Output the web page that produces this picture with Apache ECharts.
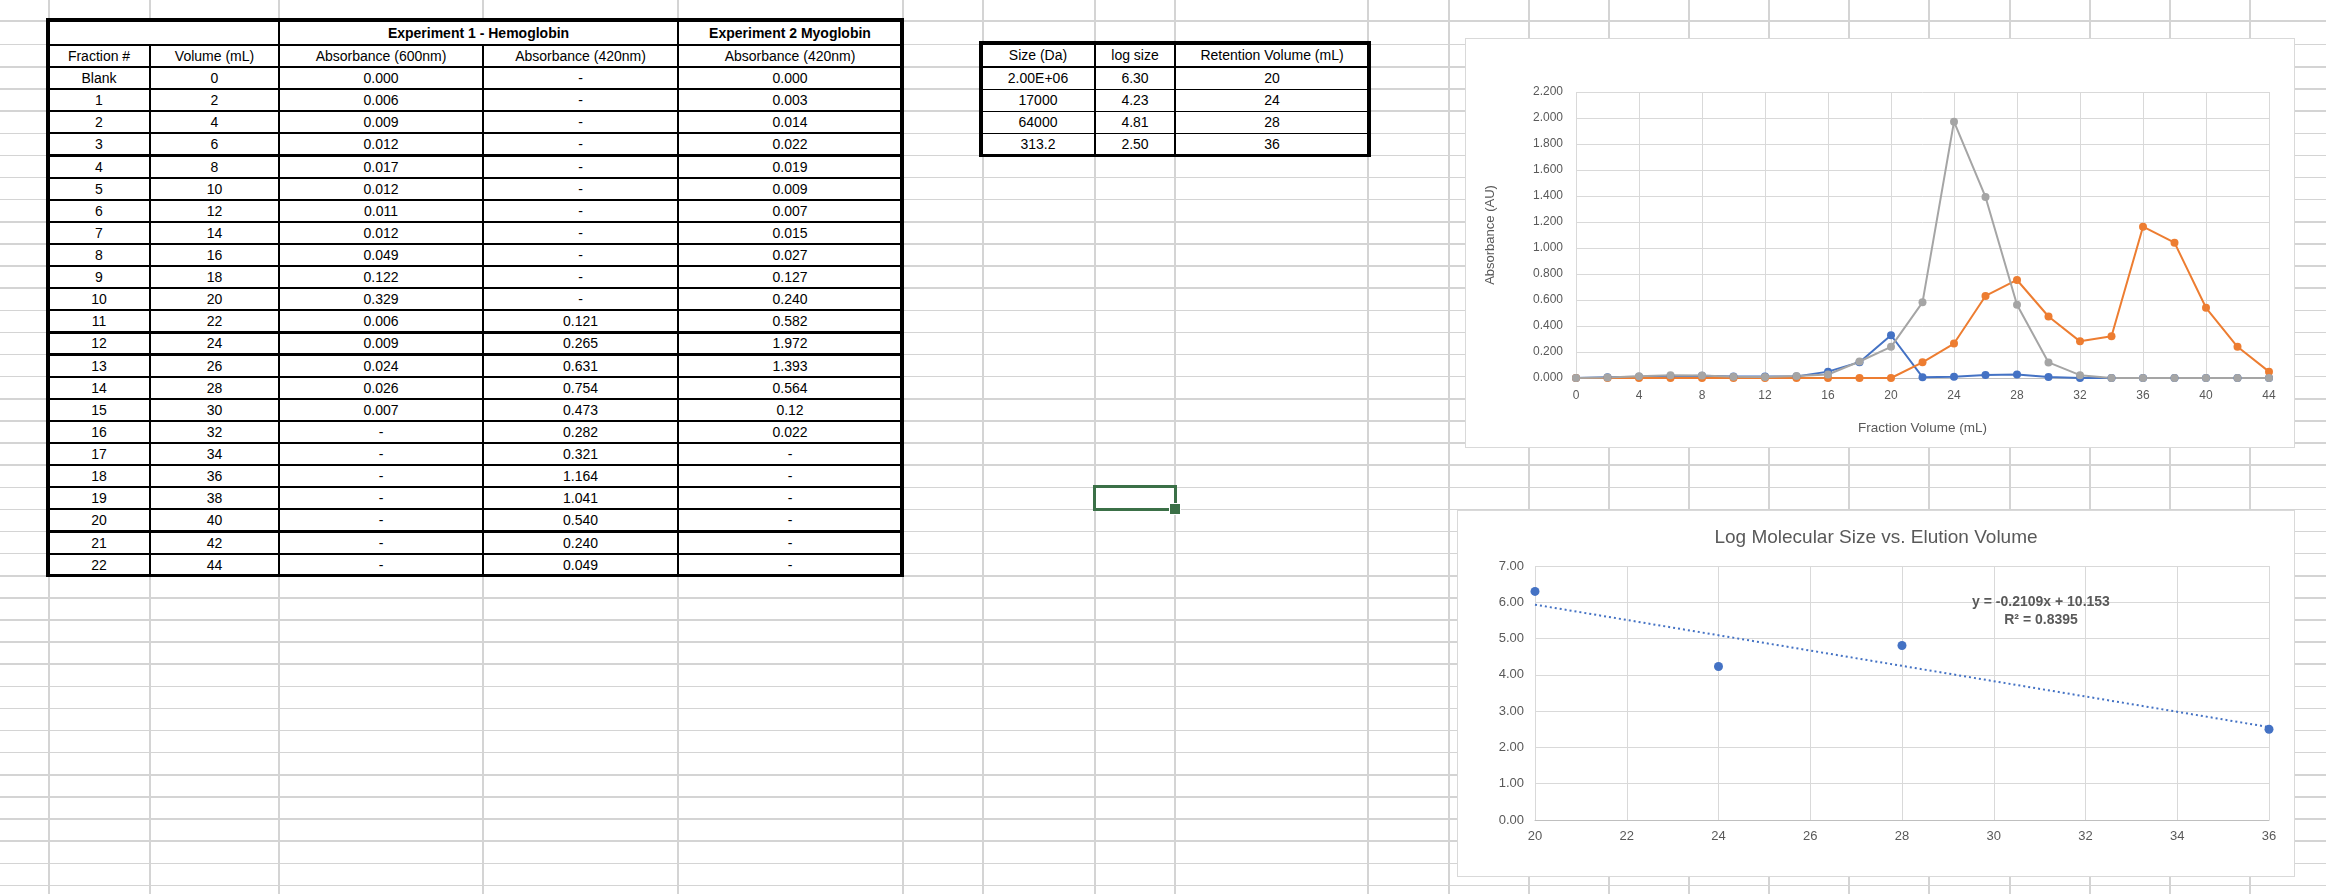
<!DOCTYPE html>
<html><head><meta charset="utf-8">
<script src="https://cdn.jsdelivr.net/npm/echarts@6/dist/echarts.min.js"></script>
<style>
html,body{margin:0;padding:0;width:2326px;height:894px;overflow:hidden;background:#fff;font-family:"Liberation Sans",Arial,sans-serif;}
#sheet{position:absolute;left:0;top:0;width:2326px;height:894px;}
.gl{position:absolute;background:#d4d4d4;}
.cell{position:absolute;display:flex;align-items:center;justify-content:center;font-size:14px;color:#000;background:#fff;white-space:nowrap;}
.bl{position:absolute;background:#000;}
.chart{position:absolute;background:#fff;}
.frame{position:absolute;border:1px solid #d9d9d9;box-sizing:border-box;pointer-events:none;}
</style></head><body>
<div id="sheet"></div>
<div id="c1" class="chart" style="left:1465px;top:38px;width:830px;height:410px"></div>
<div class="frame" style="left:1465px;top:38px;width:830px;height:410px"></div>
<div id="c2" class="chart" style="left:1457px;top:510px;width:838px;height:367px"></div>
<div class="frame" style="left:1457px;top:510px;width:838px;height:367px"></div>
<script>
// ---------------- DATA ----------------
const fractionLabels = ['Blank','1','2','3','4','5','6','7','8','9','10','11','12','13','14','15','16','17','18','19','20','21','22'];
const volumes = [0,2,4,6,8,10,12,14,16,18,20,22,24,26,28,30,32,34,36,38,40,42,44];
const hemoAbs600 = ['0.000','0.006','0.009','0.012','0.017','0.012','0.011','0.012','0.049','0.122','0.329','0.006','0.009','0.024','0.026','0.007','-','-','-','-','-','-','-'];
const hemoAbs420 = ['-','-','-','-','-','-','-','-','-','-','-','0.121','0.265','0.631','0.754','0.473','0.282','0.321','1.164','1.041','0.540','0.240','0.049'];
const myoAbs420 = ['0.000','0.003','0.014','0.022','0.019','0.009','0.007','0.015','0.027','0.127','0.240','0.582','1.972','1.393','0.564','0.12','0.022','-','-','-','-','-','-'];

const sizeDa = ['2.00E+06','17000','64000','313.2'];
const logSize = [6.30, 4.23, 4.81, 2.50];
const retentionVolume = [20, 24, 28, 36];

const trendSlope = -0.2109;
const trendIntercept = 10.153;
const trendR2 = 0.8395;

const seriesNames = ['Absorbance (600nm)','Hemoglobin Absorbance (420nm)','Myoglobin Absorbance (420nm)'];
const seriesColors = ['#4472C4','#ED7D31','#A5A5A5'];

// ---------------- SPREADSHEET BACKGROUND ----------------
const sheet = document.getElementById('sheet');
function add(cls, l, t, w, h, html, extra){
  const d = document.createElement('div');
  d.className = cls;
  d.style.left = l + 'px'; d.style.top = t + 'px';
  d.style.width = w + 'px'; d.style.height = h + 'px';
  if (html !== undefined) d.textContent = html;
  if (extra) Object.assign(d.style, extra);
  sheet.appendChild(d);
  return d;
}
const rowPitch = 22.12;
const gridCols = [49,150,279,483,678,903,983,1095,1175,1368,1449,1529,1609,1689,1769,1849,1929,2010,2090,2170,2250];
const gridRows = [21,44.5];
for (let y = 67; y < 894; y += rowPitch) gridRows.push(y);
gridCols.forEach(x => add('gl', x - 0.75, 0, 1.5, 894));
gridRows.forEach(y => add('gl', 0, y - 0.75, 2326, 1.5));

function hline(x1, x2, y, w){ add('bl', x1 - w/2, y - w/2, x2 - x1 + w, w); }
function vline(x, y1, y2, w){ add('bl', x - w/2, y1 - w/2, w, y2 - y1 + w); }

// ---------------- LEFT TABLE ----------------
const tCols = [48,150,279,483,678,902];
const tRows = [20,45];
for (let k = 0; k <= 23; k++) tRows.push(67 + k * rowPitch);
function cell(c1, c2, r, text, bold){
  add('cell', tCols[c1], tRows[r], tCols[c2] - tCols[c1], tRows[r+1] - tRows[r], text, bold ? {fontWeight:'bold'} : null);
}
cell(0,2,0,'');
cell(2,4,0,'Experiment 1 - Hemoglobin',true);
cell(4,5,0,'Experiment 2 Myoglobin',true);
['Fraction #','Volume (mL)','Absorbance (600nm)','Absorbance (420nm)','Absorbance (420nm)'].forEach((t,i)=>cell(i,i+1,1,t));
fractionLabels.forEach((f,i)=>{
  const r = i + 2;
  cell(0,1,r,f);
  cell(1,2,r,String(volumes[i]));
  cell(2,3,r,hemoAbs600[i]);
  cell(3,4,r,hemoAbs420[i]);
  cell(4,5,r,myoAbs420[i]);
});
// borders
for (let r = 1; r < tRows.length - 1; r++) hline(tCols[0], tCols[5], tRows[r], 2.2);
for (let c = 1; c < tCols.length - 1; c++) {
  const y1 = (c === 1 || c === 3) ? tRows[1] : tRows[0];
  vline(tCols[c], y1, tRows[tRows.length-1], 2.2);
}
hline(tCols[0], tCols[5], tRows[0], 3.2);
hline(tCols[0], tCols[5], tRows[tRows.length-1], 3.2);
vline(tCols[0], tRows[0], tRows[tRows.length-1], 3.2);
vline(tCols[5], tRows[0], tRows[tRows.length-1], 3.2);

// ---------------- SMALL TABLE ----------------
const sCols = [981,1095,1175,1369];
const sRows = [43,67];
for (let k = 1; k <= 4; k++) sRows.push(67 + k * rowPitch);
function scell(c, r, text){
  add('cell', sCols[c], sRows[r], sCols[c+1] - sCols[c], sRows[r+1] - sRows[r], text);
}
['Size (Da)','log size','Retention Volume (mL)'].forEach((t,i)=>scell(i,0,t));
sizeDa.forEach((s,i)=>{
  scell(0,i+1,s);
  scell(1,i+1,logSize[i].toFixed(2));
  scell(2,i+1,String(retentionVolume[i]));
});
for (let r = 1; r < sRows.length - 1; r++) hline(sCols[0], sCols[3], sRows[r], 1.2);
for (let c = 1; c < sCols.length - 1; c++) vline(sCols[c], sRows[0], sRows[sRows.length-1], 1.2);
hline(sCols[0], sCols[3], sRows[0], 3.2);
hline(sCols[0], sCols[3], sRows[sRows.length-1], 3.2);
vline(sCols[0], sRows[0], sRows[sRows.length-1], 3.2);
vline(sCols[3], sRows[0], sRows[sRows.length-1], 3.2);

// ---------------- SELECTED CELL ----------------
add('sel', 1093, 485, 84, 26, undefined, {position:'absolute', border:'3px solid #3b7047', boxSizing:'border-box', background:'transparent'});
add('sel', 1170, 504, 10, 10, undefined, {position:'absolute', background:'#3b7047', outline:'1.5px solid #fff'});

// ---------------- CHART 1 ----------------
const toNum = v => (v === '-' ? 0 : Number(v));
const font = 'Liberation Sans, Arial, sans-serif';
const chart1 = echarts.init(document.getElementById('c1'));
const lineSeries = [hemoAbs600, hemoAbs420, myoAbs420].map((arr, i) => ({
  type: 'line',
  name: seriesNames[i],
  data: volumes.map((v, j) => [v, toNum(arr[j])]),
  symbol: 'circle',
  symbolSize: 8,
  color: seriesColors[i],
  lineStyle: {width: 2, color: seriesColors[i]},
  itemStyle: {color: seriesColors[i], opacity: 1}
}));
chart1.setOption({
  animation: false,
  textStyle: {fontFamily: font},
  grid: {left: 111, right: 26, top: 54, bottom: 70},
  xAxis: {
    type: 'value', min: 0, max: 44, interval: 4,
    axisLine: {show: true, onZero: false, lineStyle: {color: '#bfbfbf', width: 1}},
    axisTick: {show: false},
    axisLabel: {color: '#595959', fontSize: 12, margin: 12},
    splitLine: {show: true, lineStyle: {color: '#d9d9d9', width: 1}},
    name: 'Fraction Volume (mL)', nameLocation: 'middle', nameGap: 43,
    nameTextStyle: {color: '#595959', fontSize: 13.5}
  },
  yAxis: {
    type: 'value', min: 0, max: 2.2, interval: 0.2,
    axisLine: {show: false}, axisTick: {show: false},
    axisLabel: {color: '#595959', fontSize: 12, margin: 13, formatter: v => v.toFixed(3)},
    splitLine: {show: true, lineStyle: {color: '#d9d9d9', width: 1}},
    name: 'Absorbance (AU)', nameLocation: 'middle', nameGap: 79,
    nameTextStyle: {color: '#595959', fontSize: 13}
  },
  series: lineSeries
});

// ---------------- CHART 2 ----------------
const chart2 = echarts.init(document.getElementById('c2'));
const xMin = Math.min(...retentionVolume), xMax = Math.max(...retentionVolume);
const trendLabel = 'y = ' + trendSlope + 'x + ' + trendIntercept + '\nR\u00B2 = ' + trendR2;
chart2.setOption({
  animation: false,
  textStyle: {fontFamily: font},
  title: {
    text: 'Log Molecular Size vs. Elution Volume', left: 'center', top: 13,
    textStyle: {color: '#595959', fontSize: 19, fontWeight: 'normal', fontFamily: font}
  },
  grid: {left: 78, right: 26, top: 56, bottom: 57},
  xAxis: {
    type: 'value', min: 20, max: 36, interval: 2,
    axisLine: {show: true, onZero: false, lineStyle: {color: '#bfbfbf', width: 1}},
    axisTick: {show: false},
    axisLabel: {color: '#595959', fontSize: 13, margin: 10},
    splitLine: {show: true, lineStyle: {color: '#d9d9d9', width: 1}}
  },
  yAxis: {
    type: 'value', min: 0, max: 7, interval: 1,
    axisLine: {show: false}, axisTick: {show: false},
    axisLabel: {color: '#595959', fontSize: 13, margin: 11, formatter: v => v.toFixed(2)},
    splitLine: {show: true, lineStyle: {color: '#d9d9d9', width: 1}}
  },
  graphic: [{
    type: 'text', x: 584, y: 83, z: 100,
    style: {text: trendLabel, fill: '#595959', font: 'bold 14px ' + font, align: 'center', textAlign: 'center', verticalAlign: 'top', lineHeight: 18}
  }],
  series: [
    {
      type: 'line', name: 'Linear (log size)',
      data: [[xMin, trendSlope * xMin + trendIntercept], [xMax, trendSlope * xMax + trendIntercept]],
      symbol: 'none', color: '#4472C4',
      lineStyle: {type: [2, 3], width: 2, color: '#4472C4'}
    },
    {
      type: 'scatter', name: 'log size',
      data: retentionVolume.map((x, i) => [x, logSize[i]]),
      symbolSize: 9, itemStyle: {color: '#4472C4', opacity: 1}
    }
  ]
});
</script>
</body></html>
